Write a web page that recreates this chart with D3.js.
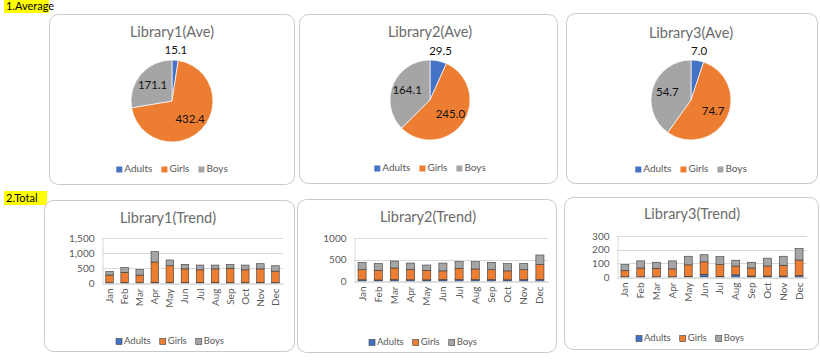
<!DOCTYPE html>
<html><head><meta charset="utf-8">
<script src="https://cdn.jsdelivr.net/npm/d3@7"></script>
<style>
html,body{margin:0;padding:0;background:#fff;}
svg{display:block;font-family:Lato,"Open Sans",sans-serif;}
</style></head>
<body>
<div id="chart"></div>
<script>
// ---------- DATA ----------
const months = ["Jan","Feb","Mar","Apr","May","Jun","Jul","Aug","Sep","Oct","Nov","Dec"];
const seriesNames = ["Adults","Girls","Boys"];
const seriesColors = ["#4472C4","#ED7D31","#A5A5A5"];

const lib1Avg = [15.1, 432.4, 171.1];
const lib2Avg = [29.5, 245.0, 164.1];
const lib3Avg = [7.0, 74.7, 54.7];

const lib1Adults = [10, 12, 10, 20, 18, 15, 15, 15, 16, 14, 18, 12];
const lib1Girls  = [255, 343, 255, 680, 557, 455, 425, 455, 479, 426, 452, 383];
const lib1Boys   = [118, 164, 186, 349, 192, 150, 158, 128, 125, 158, 173, 180];

const lib2Adults = [28, 25, 30, 28, 26, 30, 32, 30, 30, 28, 30, 35];
const lib2Girls  = [237, 223, 272, 244, 222, 205, 264, 250, 235, 207, 235, 345];
const lib2Boys   = [170, 157, 163, 146, 124, 183, 154, 170, 170, 170, 140, 225];

const lib3Adults = [2, 2, 2, 2, 4, 20, 4, 16, 7, 7, 7, 10];
const lib3Girls  = [46, 64, 62, 57, 85, 91, 87, 64, 59, 74, 79, 114];
const lib3Boys   = [43, 52, 44, 59, 63, 52, 59, 43, 42, 57, 66, 84];

const lib1Ticks = [0, 500, 1000, 1500];
const lib2Ticks = [0, 500, 1000];
const lib3Ticks = [0, 100, 200, 300];

const sectionLabels = ["1.Average", "2.Total"];

// ---------- DRAW ----------
const W = 820, H = 361;
const svg = d3.select("#chart").append("svg").attr("width", W).attr("height", H);

function sectionLabel(text, x, y, w, h) {
  svg.append("rect").attr("x", x).attr("y", y).attr("width", w).attr("height", h).attr("fill", "#FFFF00");
  svg.append("text").attr("x", x + 2).attr("y", y + h - 3).attr("font-size", 11).attr("fill", "#000").text(text);
}
sectionLabel(sectionLabels[0], 4, -1, 45, 14);
sectionLabel(sectionLabels[1], 4, 191, 43, 14);

function panel(x, y, w, h) {
  svg.append("rect").attr("x", x + 0.5).attr("y", y + 0.5).attr("width", w).attr("height", h)
    .attr("rx", 9).attr("ry", 9).attr("fill", "#fff").attr("stroke", "#c9c9c9").attr("stroke-width", 1);
}

function legend(cx, y, fontSize, box, borders) {
  const g = svg.append("g");
  const items = g.selectAll("g").data(seriesNames).join("g");
  items.append("rect").attr("width", box).attr("height", box).attr("y", -box + 0.5)
    .attr("fill", (d, i) => seriesColors[i])
    .attr("stroke", borders ? "#404040" : "none").attr("stroke-width", 0.6);
  items.append("text").attr("x", box + 2).attr("y", 0).attr("font-size", fontSize).attr("fill", "#595959").text(d => d);
  let xs = 0;
  const pos = [];
  items.each(function () {
    const bw = this.getBBox().width;
    pos.push(xs);
    xs += bw + 9;
  });
  const total = xs - 9;
  items.attr("transform", (d, i) => `translate(${cx - total / 2 + pos[i]},${y})`);
}

function pieChart(cfg) {
  panel(cfg.px, cfg.py, cfg.pw, cfg.ph);
  svg.append("text").attr("x", cfg.cx).attr("y", cfg.ty).attr("text-anchor", "middle")
    .attr("font-size", 14.5).attr("fill", "#6b6b6b").text(cfg.title);
  const pie = d3.pie().sort(null).value(d => d)(cfg.values);
  const arc = d3.arc().innerRadius(0).outerRadius(cfg.r);
  const g = svg.append("g").attr("transform", `translate(${cfg.cx},${cfg.cy})`);
  g.selectAll("path").data(pie).join("path").attr("d", arc)
    .attr("fill", (d, i) => seriesColors[i]).attr("stroke", "#fff").attr("stroke-width", 0.7);
  const total = d3.sum(cfg.values);
  g.selectAll("text").data(pie).join("text")
    .attr("transform", d => {
      const a = (d.startAngle + d.endAngle) / 2;
      const frac = d.value / total;
      const k = frac < 0.1 ? cfg.r + 10 : cfg.r * 0.62;
      return `translate(${Math.sin(a) * k},${-Math.cos(a) * k})`;
    })
    .attr("text-anchor", "middle").attr("dy", "0.35em")
    .attr("font-size", 11.5).attr("fill", "#111").text(d => d.value.toFixed(1));
  legend(cfg.cx, cfg.ly, 10, 6, false);
}

pieChart({title: "Library1(Ave)", values: lib1Avg, px: 49, py: 14, pw: 245, ph: 170, cx: 172, cy: 101, r: 41, ty: 37, ly: 172});
pieChart({title: "Library2(Ave)", values: lib2Avg, px: 299, py: 14, pw: 258, ph: 169, cx: 430, cy: 100, r: 40, ty: 37, ly: 171});
pieChart({title: "Library3(Ave)", values: lib3Avg, px: 566, py: 13, pw: 251, ph: 170, cx: 691, cy: 100, r: 40, ty: 38, ly: 172});

function barChart(cfg) {
  panel(cfg.px, cfg.py, cfg.pw, cfg.ph);
  svg.append("text").attr("x", cfg.tx).attr("y", cfg.ty).attr("text-anchor", "middle")
    .attr("font-size", 14.5).attr("fill", "#6b6b6b").text(cfg.title);
  const x = d3.scaleBand().domain(months).range([cfg.x0, cfg.x1]).paddingInner(0.5).paddingOuter(0.25);
  const y = d3.scaleLinear().domain([0, d3.max(cfg.ticks)]).range([cfg.y0, cfg.yTop]);
  const g = svg.append("g");
  g.selectAll("line.grid").data(cfg.ticks.filter(t => t > 0)).join("line")
    .attr("x1", cfg.x0).attr("x2", cfg.x1).attr("y1", d => Math.round(y(d)) + 0.5).attr("y2", d => Math.round(y(d)) + 0.5)
    .attr("stroke", "#d9d9d9").attr("stroke-width", 1);
  const ya = d3.axisLeft(y).tickValues(cfg.ticks).tickSize(0).tickPadding(8).tickFormat(cfg.fmt);
  const yg = g.append("g").attr("transform", `translate(${cfg.x0 + 0.5},0)`).call(ya);
  yg.select(".domain").attr("stroke", "#d9d9d9");
  yg.selectAll("text").attr("font-size", 10).attr("fill", "#595959").attr("font-family", "Lato,sans-serif");
  const rows = months.map((m, i) => ({month: m, Adults: cfg.adults[i], Girls: cfg.girls[i], Boys: cfg.boys[i]}));
  const stack = d3.stack().keys(seriesNames)(rows);
  g.selectAll("g.layer").data(stack).join("g").attr("fill", (d, i) => seriesColors[i])
    .selectAll("rect").data(d => d).join("rect")
    .attr("x", d => x(d.data.month)).attr("width", x.bandwidth())
    .attr("y", d => y(d[1])).attr("height", d => y(d[0]) - y(d[1]))
    .attr("stroke", "#3a3a3a").attr("stroke-width", 0.6);
  const xa = d3.axisBottom(x).tickSize(0).tickPadding(4);
  const xg = g.append("g").attr("transform", `translate(0,${cfg.y0 + 0.5})`).call(xa);
  xg.select(".domain").attr("stroke", "#bfbfbf");
  xg.selectAll("text").attr("font-size", 10).attr("fill", "#595959").attr("font-family", "Lato,sans-serif")
    .attr("text-anchor", "end").attr("transform", "rotate(-90)")
    .attr("x", -5).attr("y", 0).attr("dy", "0.35em");
  legend(cfg.lx, cfg.ly, 9.5, 6, true);
}

barChart({title: "Library1(Trend)", adults: lib1Adults, girls: lib1Girls, boys: lib1Boys, ticks: lib1Ticks, fmt: d3.format(","),
  px: 44, py: 200, pw: 250, ph: 151, tx: 168, ty: 223, x0: 102, x1: 283, y0: 283, yTop: 238, lx: 170, ly: 344});
barChart({title: "Library2(Trend)", adults: lib2Adults, girls: lib2Girls, boys: lib2Boys, ticks: lib2Ticks, fmt: d3.format("d"),
  px: 297, py: 199, pw: 259, ph: 153, tx: 428, ty: 222, x0: 354, x1: 548, y0: 281, yTop: 238, lx: 423, ly: 345});
barChart({title: "Library3(Trend)", adults: lib3Adults, girls: lib3Girls, boys: lib3Boys, ticks: lib3Ticks, fmt: d3.format("d"),
  px: 564, py: 197, pw: 254, ph: 152, tx: 692, ty: 219, x0: 617, x1: 807, y0: 277, yTop: 236, lx: 690, ly: 341});
</script>
</body></html>
